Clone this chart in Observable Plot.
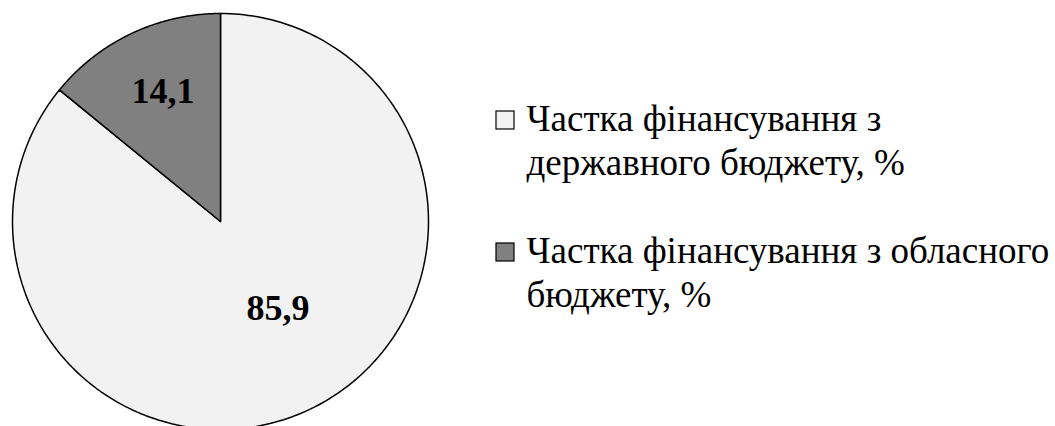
<!DOCTYPE html>
<html><head><meta charset="utf-8">
<script src="https://cdn.jsdelivr.net/npm/d3@7"></script>
<script src="https://cdn.jsdelivr.net/npm/@observablehq/plot@0.6"></script>
<style>body{margin:0;background:#fff}</style>
</head><body><div id="chart"></div>
<script>
const categories = ["Частка фінансування з державного бюджету, %", "Частка фінансування з обласного бюджету, %"];
const values = [85.9, 14.1];
const valueLabels = ["85,9", "14,1"];
const colors = ["#f2f2f2", "#808080"];

const W = 1055, H = 426;
const cx = 220, cy = 221, R = 208;
const labelRadius = [0.465, 0.69];
const labelShift = [16, 4];
const font = "'Liberation Serif', 'Times New Roman', serif";
const legendFontSize = 37;
const legendX = 496, legendBox = 18, legendTextX = 526, legendWrap = 530;
const legendY0 = 130, legendLineStep = 44, legendItemStep = 132;

const pie = d3.pie().sort(null).value(d => d)(values);
const slices = pie.map((p, i) => {
  const pts = [{x: cx, y: cy}];
  const n = 240;
  for (let k = 0; k <= n; k++) {
    const a = p.startAngle + (p.endAngle - p.startAngle) * k / n;
    pts.push({x: cx + R * Math.sin(a), y: cy - R * Math.cos(a)});
  }
  pts.push({x: cx, y: cy});
  return pts;
});
const labels = pie.map((p, i) => {
  const a = (p.startAngle + p.endAngle) / 2;
  const r = R * labelRadius[i];
  return {x: cx + r * Math.sin(a) + labelShift[i], y: cy - r * Math.cos(a), text: valueLabels[i]};
});

const ctx = document.createElement("canvas").getContext("2d");
ctx.font = `${legendFontSize}px ${font}`;
function wrap(s) {
  const words = s.split(" ");
  const lines = [];
  let cur = "";
  for (const w of words) {
    const t = cur ? cur + " " + w : w;
    if (ctx.measureText(t).width > legendWrap && cur) { lines.push(cur); cur = w; }
    else cur = t;
  }
  if (cur) lines.push(cur);
  return lines;
}
const legendLines = [];
const legendBoxes = [];
categories.forEach((c, i) => {
  const base = legendY0 + i * legendItemStep;
  wrap(c).forEach((line, j) => legendLines.push({x: legendTextX, y: base + j * legendLineStep, text: line}));
  legendBoxes.push({x1: legendX, x2: legendX + legendBox, y1: base - 1 - legendBox, y2: base - 1, fill: colors[i]});
});

const chart = Plot.plot({
  width: W, height: H,
  margin: 0,
  x: {domain: [0, W], range: [0, W], axis: null},
  y: {domain: [0, H], range: [0, H], axis: null},
  style: {background: "#fff", overflow: "visible", fontFamily: font},
  marks: [
    ...slices.map((pts, i) => Plot.line(pts, {x: "x", y: "y", fill: colors[i], stroke: "#000", strokeWidth: 1.5, strokeLinejoin: "round", curve: "linear"})),
    Plot.text(labels, {x: "x", y: "y", text: "text", fontSize: 36, fontWeight: "bold", fontFamily: font, fill: "#000", lineAnchor: "middle"}),
    Plot.rect(legendBoxes, {x1: "x1", x2: "x2", y1: "y1", y2: "y2", fill: "fill", stroke: "#000", strokeWidth: 1.2}),
    Plot.text(legendLines, {x: "x", y: "y", text: "text", textAnchor: "start", lineAnchor: "bottom", fontSize: legendFontSize, fontFamily: font, fill: "#000"})
  ]
});
document.getElementById("chart").appendChild(chart);
</script>
</body></html>
